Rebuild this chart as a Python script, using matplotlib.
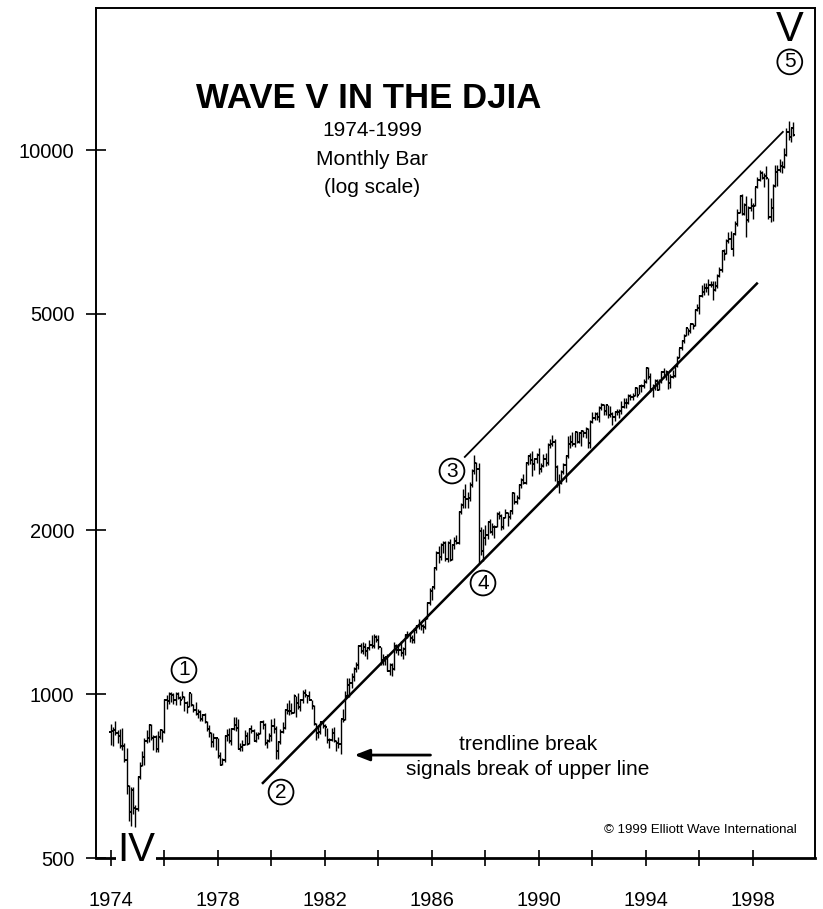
import matplotlib.pyplot as plt
import numpy as np
from matplotlib.ticker import NullLocator

plt.rcParams['font.family'] = ['Liberation Sans', 'DejaVu Sans']

# DJIA monthly bars, Jan 1974 - Jul 1999
first_year = 1974
close_dec_1973 = 851

closes = [
    855, 860, 847, 837, 802, 802, 757, 679, 608, 666, 619, 616,          # 1974
    704, 739, 768, 821, 832, 879, 832, 835, 794, 836, 860, 852,          # 1975
    975, 973, 999, 997, 975, 1003, 985, 974, 990, 965, 947, 1005,        # 1976
    954, 936, 919, 926, 899, 916, 890, 862, 847, 818, 830, 831,          # 1977
    770, 742, 757, 837, 841, 819, 862, 877, 866, 793, 799, 805,          # 1978
    839, 809, 862, 855, 822, 842, 846, 888, 878, 815, 822, 839,          # 1979
    876, 863, 786, 817, 851, 868, 935, 933, 932, 925, 993, 964,          # 1980
    947, 975, 1004, 998, 992, 977, 952, 882, 850, 853, 889, 875,         # 1981
    871, 824, 823, 848, 820, 812, 809, 901, 896, 992, 1039, 1047,        # 1982
    1076, 1113, 1130, 1226, 1200, 1222, 1199, 1216, 1233, 1225, 1276, 1259,  # 1983
    1221, 1155, 1165, 1171, 1105, 1132, 1115, 1224, 1207, 1207, 1189, 1212,  # 1984
    1287, 1284, 1267, 1258, 1315, 1336, 1348, 1334, 1329, 1375, 1472, 1547,  # 1985
    1571, 1709, 1819, 1784, 1877, 1893, 1775, 1898, 1768, 1878, 1914, 1896,  # 1986
    2158, 2224, 2305, 2286, 2292, 2419, 2572, 2663, 2596, 1994, 1834, 1939,  # 1987
    1958, 2072, 1988, 2032, 2031, 2142, 2129, 2032, 2112, 2149, 2115, 2169,  # 1988
    2342, 2259, 2294, 2419, 2480, 2440, 2661, 2737, 2693, 2645, 2706, 2753,  # 1989
    2591, 2627, 2707, 2657, 2877, 2881, 2905, 2614, 2453, 2442, 2560, 2634,  # 1990
    2736, 2882, 2914, 2888, 3028, 2907, 3025, 3044, 3017, 3069, 2895, 3169,  # 1991
    3224, 3267, 3236, 3359, 3397, 3319, 3394, 3257, 3272, 3226, 3306, 3301,  # 1992
    3310, 3371, 3435, 3428, 3527, 3516, 3540, 3651, 3555, 3681, 3684, 3754,  # 1993
    3978, 3832, 3636, 3682, 3758, 3625, 3765, 3913, 3843, 3908, 3739, 3834,  # 1994
    3844, 4011, 4158, 4321, 4465, 4556, 4709, 4647, 4789, 4756, 5075, 5117,  # 1995
    5395, 5486, 5588, 5569, 5643, 5655, 5529, 5616, 5882, 6029, 6522, 6448,  # 1996
    6813, 6878, 6584, 7009, 7331, 7673, 8223, 7622, 7945, 7442, 7823, 7908,  # 1997
    7907, 8546, 8800, 9063, 8900, 8952, 8883, 7539, 7843, 8592, 9117, 9181,  # 1998
    9359, 9307, 9786, 10789, 10560, 10971, 10655,                            # 1999
]

highs = [
    880, 870, 892, 860, 862, 865, 812, 798, 680, 674, 675, 625,
    707, 750, 787, 830, 858, 881, 882, 840, 842, 855, 864, 862,
    980, 995, 1010, 1011, 1007, 1008, 1011, 993, 1015, 991, 972, 1005,
    1006, 958, 969, 940, 937, 920, 923, 894, 877, 853, 850, 836,
    832, 782, 765, 840, 862, 866, 868, 908, 907, 901, 815, 824,
    859, 852, 866, 878, 862, 854, 852, 891, 898, 886, 829, 848,
    900, 904, 874, 822, 864, 888, 940, 965, 974, 963, 1000, 994,
    1004, 980, 1017, 1024, 998, 1012, 977, 954, 884, 878, 890, 894,
    882, 868, 832, 866, 869, 823, 836, 902, 941, 1012, 1070, 1070,
    1093, 1122, 1145, 1232, 1240, 1249, 1243, 1221, 1260, 1287, 1288, 1287,
    1287, 1223, 1184, 1175, 1187, 1140, 1140, 1249, 1239, 1235, 1250, 1220,
    1293, 1307, 1300, 1285, 1322, 1340, 1372, 1360, 1345, 1380, 1478, 1570,
    1575, 1714, 1832, 1874, 1893, 1910, 1913, 1910, 1925, 1885, 1945, 1960,
    2175, 2247, 2380, 2430, 2350, 2460, 2595, 2747, 2670, 2660, 2030, 2010,
    2050, 2080, 2100, 2060, 2050, 2160, 2170, 2140, 2120, 2190, 2160, 2180,
    2350, 2350, 2320, 2430, 2500, 2540, 2670, 2750, 2770, 2800, 2710, 2770,
    2830, 2660, 2760, 2770, 2890, 2950, 3000, 2940, 2640, 2540, 2580, 2660,
    2750, 2980, 2990, 3030, 3040, 3050, 3040, 3060, 3060, 3100, 3080, 3190,
    3300, 3300, 3300, 3380, 3430, 3420, 3420, 3400, 3390, 3300, 3320, 3350,
    3340, 3460, 3510, 3500, 3560, 3560, 3580, 3670, 3670, 3700, 3720, 3800,
    4000, 4000, 3900, 3720, 3790, 3800, 3790, 3930, 3980, 3950, 3890, 3880,
    3950, 4030, 4180, 4330, 4470, 4600, 4730, 4720, 4800, 4820, 5110, 5220,
    5420, 5640, 5690, 5690, 5800, 5750, 5750, 5750, 5920, 6100, 6560, 6580,
    6880, 7080, 7100, 7040, 7410, 7800, 8260, 8300, 8000, 8230, 7890, 8170,
    7990, 8570, 8910, 9210, 9170, 9080, 9370, 8880, 8160, 8660, 9400, 9380,
    9650, 9560, 10080, 11000, 11330, 11000, 11250,
]

lows = [
    805, 803, 840, 814, 795, 791, 750, 656, 584, 573, 603, 570,
    610, 700, 737, 742, 815, 816, 824, 791, 784, 784, 826, 818,
    848, 940, 958, 967, 960, 955, 978, 957, 978, 932, 924, 946,
    950, 927, 915, 903, 893, 893, 886, 855, 834, 801, 800, 790,
    763, 741, 742, 750, 820, 812, 805, 860, 856, 792, 785, 787,
    807, 806, 810, 847, 820, 818, 826, 846, 864, 806, 796, 817,
    820, 850, 759, 760, 811, 847, 864, 920, 917, 918, 922, 908,
    938, 931, 964, 990, 963, 975, 938, 879, 824, 832, 844, 868,
    838, 814, 795, 821, 816, 788, 795, 776, 890, 896, 990, 990,
    1027, 1059, 1100, 1113, 1190, 1185, 1174, 1160, 1206, 1218, 1218, 1245,
    1213, 1134, 1131, 1130, 1101, 1086, 1078, 1109, 1190, 1181, 1175, 1160,
    1180, 1268, 1245, 1242, 1240, 1295, 1320, 1310, 1297, 1318, 1375, 1460,
    1490, 1562, 1690, 1740, 1764, 1820, 1759, 1750, 1755, 1764, 1850, 1885,
    1890, 2140, 2200, 2200, 2200, 2270, 2400, 2540, 2470, 1740, 1800, 1760,
    1880, 1930, 1980, 1960, 1940, 2030, 2100, 2000, 2010, 2110, 2040, 2100,
    2140, 2240, 2240, 2280, 2390, 2430, 2430, 2640, 2650, 2520, 2580, 2660,
    2540, 2560, 2620, 2630, 2640, 2840, 2860, 2470, 2400, 2340, 2430, 2540,
    2450, 2720, 2830, 2860, 2850, 2890, 2900, 2860, 2970, 2960, 2840, 2840,
    3150, 3190, 3190, 3160, 3330, 3260, 3260, 3220, 3230, 3130, 3180, 3260,
    3220, 3270, 3360, 3360, 3410, 3470, 3470, 3530, 3520, 3560, 3600, 3660,
    3740, 3800, 3590, 3520, 3620, 3620, 3620, 3730, 3830, 3780, 3640, 3650,
    3810, 3830, 3990, 4150, 4300, 4420, 4560, 4580, 4620, 4700, 4750, 5060,
    5000, 5380, 5420, 5480, 5410, 5600, 5300, 5500, 5580, 5850, 5980, 6270,
    6440, 6760, 6580, 6390, 6990, 7260, 7650, 7600, 7590, 6930, 7380, 7720,
    7480, 7900, 8520, 8780, 8860, 8560, 8850, 7460, 7380, 7400, 8560, 8600,
    9120, 9080, 9270, 9770, 10450, 10370, 10600,
]

# channel lines (year, index level)
lower_line_years = [1979.68, 1998.15]
lower_line_values = [687, 5686]
upper_line_years = [1987.23, 1999.12]
upper_line_values = [2730, 10803]

# Elliott wave counts
wave_labels = ['1', '2', '3', '4', '5']
wave_years = [1976.73, 1980.36, 1986.75, 1987.91, 1999.38]
wave_values = [1108, 661, 2572, 1601, 14530]

y_ticks = [500, 1000, 2000, 5000, 10000]
x_ticks = list(range(1974, 1999, 2))

t = first_year + np.arange(len(closes)) / 12.0
opens = np.r_[close_dec_1973, closes[:-1]]

fig = plt.figure(figsize=(8.23, 9.09), dpi=100)
ax = fig.add_axes([0.1166, 0.0561, 0.8736, 0.9351])
ax.set_yscale('log')
ax.set_xlim(1973.44, 2000.32)
ax.set_ylim(500, 18250)

# monthly bars: high-low range with open/close ticks
ax.vlines(t, lows, highs, color='black', lw=1.0)
ax.hlines(closes, t, t + 0.07, color='black', lw=1.4)
ax.hlines(opens, t - 0.07, t, color='black', lw=1.4)

ax.plot(lower_line_years, lower_line_values, color='black', lw=1.8)
ax.plot(upper_line_years, upper_line_values, color='black', lw=1.3)

for lab, wy, wv in zip(wave_labels, wave_years, wave_values):
    ax.text(wy, wv, lab, fontsize=15, ha='center', va='center',
            bbox=dict(boxstyle='circle,pad=0.14', fc='white', ec='black', lw=1.3))

ax.text(1999.38, 16640, 'V', fontsize=30, ha='center', va='center')
ax.text(1974.93, 517, 'IV', fontsize=29, ha='center', va='center', zorder=5,
        bbox=dict(fc='white', ec='none', pad=1))

ax.annotate('', xy=(1983.0, 773), xytext=(1986.05, 773),
            arrowprops=dict(arrowstyle='-|>,head_length=0.9,head_width=0.35',
                            color='black', lw=2))
ax.text(1989.59, 767, 'trendline break\nsignals break of upper line',
        fontsize=15, ha='center', va='center', linespacing=1.4)

ax.text(0.975, 0.033, '\u00a9 1999 Elliott Wave International', fontsize=9.5,
        ha='right', va='center', transform=ax.transAxes)

ax.set_yticks(y_ticks)
ax.set_yticklabels([str(v) for v in y_ticks])
ax.yaxis.set_minor_locator(NullLocator())
ax.set_xticks(x_ticks)
ax.set_xticklabels([str(y) if (y - 1974) % 4 == 0 else '' for y in x_ticks])
ax.tick_params(axis='y', direction='inout', length=15, width=1.2, labelsize=14.5, pad=8)
ax.tick_params(axis='x', direction='inout', length=12, width=1.2, labelsize=14.5, pad=18)

for side in ['left', 'right', 'top']:
    ax.spines[side].set_linewidth(1.4)
ax.spines['bottom'].set_linewidth(2)

fig.text(0.448, 0.892, 'WAVE V IN THE DJIA', fontsize=25, fontweight='bold',
         ha='center', va='center')
fig.text(0.452, 0.856, '1974-1999', fontsize=15, ha='center', va='center')
fig.text(0.452, 0.825, 'Monthly Bar', fontsize=15, ha='center', va='center')
fig.text(0.452, 0.794, '(log scale)', fontsize=15, ha='center', va='center')

fig.savefig('out.png', dpi=100)
